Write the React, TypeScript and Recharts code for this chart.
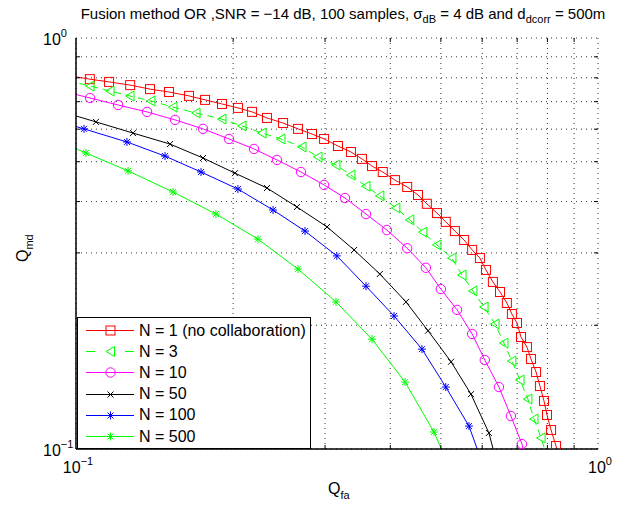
import React from 'react';
import { LineChart, Line, XAxis, YAxis, CartesianGrid, Legend } from 'recharts';

const FONT = 'Liberation Sans, Arial, Helvetica, sans-serif';
const CHART_W = 643;
const CHART_H = 506;
const MARGIN = { top: 38, right: 45, bottom: 27, left: 16 };
const Y_AXIS_W = 60;
const X_AXIS_H = 30;
const PLOT_W = CHART_W - MARGIN.left - Y_AXIS_W - MARGIN.right;
const PLOT_H = CHART_H - MARGIN.top - MARGIN.bottom - X_AXIS_H;

// tick values (log axes, minor grid at 2..9 x decade)
const xTicks = [0.1, 0.2, 0.3, 0.4, 0.5, 0.6, 0.7, 0.8, 0.9, 1];
const yTicks = [0.1, 0.2, 0.3, 0.4, 0.5, 0.6, 0.7, 0.8, 0.9, 1];

// N = 1 (no collaboration)
const qfaN1 = [0.0916, 0.1063, 0.1157, 0.127, 0.1386, 0.1507, 0.1646, 0.1767, 0.1904, 0.2043, 0.2174, 0.2322, 0.2493, 0.2663, 0.2832, 0.2987, 0.3176, 0.3363, 0.353, 0.369, 0.387, 0.4085, 0.431, 0.452, 0.47, 0.4915, 0.511, 0.532, 0.554, 0.574, 0.594, 0.61, 0.629, 0.649, 0.669, 0.684, 0.6995, 0.712, 0.731, 0.744, 0.761, 0.774, 0.788, 0.7985, 0.813, 0.831, 0.846];
const qmdN1 = [0.819, 0.794, 0.782, 0.768, 0.751, 0.739, 0.723, 0.707, 0.691, 0.676, 0.661, 0.639, 0.621, 0.601, 0.584, 0.568, 0.546, 0.528, 0.508, 0.488, 0.472, 0.451, 0.434, 0.415, 0.395, 0.375, 0.357, 0.339, 0.3225, 0.305, 0.2915, 0.2727, 0.255, 0.241, 0.2266, 0.213, 0.2026, 0.1873, 0.177, 0.1656, 0.1539, 0.1423, 0.1309, 0.121, 0.1112, 0.1017, 0.093];

// N = 3
const qfaN3 = [0.0916, 0.1064, 0.1162, 0.1269, 0.1392, 0.1534, 0.1698, 0.1904, 0.208, 0.2272, 0.247, 0.271, 0.2908, 0.3148, 0.3363, 0.3594, 0.382, 0.41, 0.436, 0.462, 0.4915, 0.525, 0.549, 0.576, 0.605, 0.635, 0.6605, 0.684, 0.709, 0.734, 0.754, 0.778, 0.802];
const qmdN3 = [0.801, 0.764, 0.743, 0.7225, 0.7026, 0.679, 0.657, 0.635, 0.611, 0.587, 0.568, 0.543, 0.5135, 0.491, 0.464, 0.436, 0.413, 0.386, 0.361, 0.337, 0.3136, 0.2915, 0.265, 0.2424, 0.2216, 0.2015, 0.181, 0.1637, 0.1472, 0.1323, 0.1183, 0.1064, 0.094];

// N = 10
const qfaN10 = [0.0916, 0.1064, 0.1204, 0.1368, 0.1548, 0.1751, 0.1964, 0.2193, 0.2427, 0.2698, 0.2987, 0.3276, 0.3594, 0.394, 0.431, 0.468, 0.5, 0.537, 0.574, 0.607, 0.646, 0.681, 0.715, 0.734];
const qmdN10 = [0.749, 0.7145, 0.687, 0.661, 0.632, 0.601, 0.568, 0.537, 0.505, 0.472, 0.439, 0.408, 0.373, 0.341, 0.308, 0.276, 0.245, 0.218, 0.1905, 0.1646, 0.1415, 0.1203, 0.1028, 0.0899];

// N = 50
const qfaN50 = [0.0916, 0.1092, 0.1286, 0.1514, 0.1751, 0.2016, 0.2322, 0.265, 0.3027, 0.341, 0.382, 0.4287, 0.4725, 0.523, 0.571, 0.618, 0.649];
const qmdN50 = [0.668, 0.625, 0.587, 0.552, 0.5105, 0.469, 0.4315, 0.388, 0.347, 0.305, 0.2666, 0.228, 0.194, 0.163, 0.136, 0.1094, 0.0865];

// N = 100
const qfaN100 = [0.0916, 0.1036, 0.1252, 0.1481, 0.1736, 0.2043, 0.2385, 0.2746, 0.316, 0.3594, 0.4067, 0.46, 0.511, 0.566, 0.607];
const qmdN100 = [0.6295, 0.601, 0.5585, 0.516, 0.472, 0.429, 0.3815, 0.339, 0.295, 0.249, 0.2107, 0.175, 0.1415, 0.1137, 0.0889];

// N = 500
const qfaN500 = [0.0916, 0.1045, 0.1258, 0.1534, 0.1854, 0.2232, 0.2663, 0.3148, 0.369, 0.427, 0.485, 0.532];
const qmdN500 = [0.565, 0.525, 0.475, 0.422, 0.373, 0.324, 0.274, 0.228, 0.185, 0.1455, 0.11, 0.0841];

const zip = (xs: number[], ys: number[]) => xs.map((x, i) => ({ x, y: ys[i] }));

type Kind = 'square' | 'triangle' | 'circle' | 'x' | 'star';

const series: { name: string; color: string; kind: Kind; dashed: boolean; data: { x: number; y: number }[] }[] = [
  { name: 'N = 1 (no collaboration)', color: '#ff0000', kind: 'square', dashed: false, data: zip(qfaN1, qmdN1) },
  { name: 'N = 3', color: '#00ff00', kind: 'triangle', dashed: true, data: zip(qfaN3, qmdN3) },
  { name: 'N = 10', color: '#ff00ff', kind: 'circle', dashed: false, data: zip(qfaN10, qmdN10) },
  { name: 'N = 50', color: '#000000', kind: 'x', dashed: false, data: zip(qfaN50, qmdN50) },
  { name: 'N = 100', color: '#0000ff', kind: 'star', dashed: false, data: zip(qfaN100, qmdN100) },
  { name: 'N = 500', color: '#00ff00', kind: 'star', dashed: false, data: zip(qfaN500, qmdN500) },
];

const marker = (kind: Kind, color: string, cx: number, cy: number, key?: any) => {
  const common = { fill: 'none', stroke: color, strokeWidth: 1 };
  switch (kind) {
    case 'square':
      return <rect key={key} x={cx - 4.5} y={cy - 4.5} width={9} height={9} {...common} />;
    case 'triangle':
      return <polygon key={key} points={`${cx - 4.5},${cy} ${cx + 4},${cy - 5} ${cx + 4},${cy + 5}`} {...common} />;
    case 'circle':
      return <circle key={key} cx={cx} cy={cy} r={4.7} {...common} />;
    case 'x':
      return (
        <g key={key} {...common}>
          <line x1={cx - 3} y1={cy - 3} x2={cx + 3} y2={cy + 3} />
          <line x1={cx - 3} y1={cy + 3} x2={cx + 3} y2={cy - 3} />
        </g>
      );
    case 'star':
    default:
      return (
        <g key={key} {...common}>
          <line x1={cx - 4} y1={cy} x2={cx + 4} y2={cy} />
          <line x1={cx} y1={cy - 4} x2={cx} y2={cy + 4} />
          <line x1={cx - 3} y1={cy - 3} x2={cx + 3} y2={cy + 3} />
          <line x1={cx - 3} y1={cy + 3} x2={cx + 3} y2={cy - 3} />
        </g>
      );
  }
};

const makeDot = (kind: Kind, color: string) => (p: any) => {
  const { cx, cy, index } = p;
  if (cx == null || cy == null || isNaN(cx) || isNaN(cy)) return <g key={`e${index}`} />;
  return marker(kind, color, cx, cy, `d${index}`);
};

const Pow10 = ({ x, y, exp, anchor }: { x: number; y: number; exp: string; anchor: 'start' | 'middle' | 'end' }) => (
  <text x={x} y={y} textAnchor={anchor} fontFamily={FONT} fontSize={16} fill="#000">
    10
    <tspan dy={-8} fontSize={11}>
      {exp}
    </tspan>
  </text>
);

const XTick = (props: any) => {
  const { x, y, payload } = props;
  const v = payload.value;
  const major = v === 0.1 || v === 1;
  return (
    <g>
      {!major && <line x1={x} x2={x} y1={y} y2={y - 4} stroke="#000" />}
      {!major && <line x1={x} x2={x} y1={y - PLOT_H} y2={y - PLOT_H + 4} stroke="#000" />}
      {major && <Pow10 x={x + 2} y={y + 24} exp={v === 1 ? '0' : '−1'} anchor="middle" />}
    </g>
  );
};

const YTick = (props: any) => {
  const { x, y, payload } = props;
  const v = payload.value;
  const major = v === 0.1 || v === 1;
  return (
    <g>
      {!major && <line x1={x} x2={x + 4} y1={y} y2={y} stroke="#000" />}
      {!major && <line x1={x + PLOT_W} x2={x + PLOT_W - 4} y1={y} y2={y} stroke="#000" />}
      {major && <Pow10 x={x - 33} y={y + 7} exp={v === 1 ? '0' : '−1'} anchor="start" />}
    </g>
  );
};

const renderLegend = () => (
  <div
    style={{
      width: 234,
      height: 132,
      border: '1px solid #000',
      background: '#fff',
      boxSizing: 'border-box',
      position: 'relative',
      fontFamily: FONT,
      fontSize: 16,
      color: '#000',
    }}
  >
    {series.map((s, i) => (
      <div
        key={s.name}
        style={{ position: 'absolute', left: 0, top: 2 + i * 21.2, height: 21, display: 'flex', alignItems: 'center', whiteSpace: 'nowrap' }}
      >
        <svg width={61} height={21} style={{ display: 'block' }}>
          {s.dashed ? (
            <g stroke={s.color} strokeWidth={1}>
              <line x1={8} x2={17} y1={10.5} y2={10.5} />
              <line x1={47} x2={56} y1={10.5} y2={10.5} />
            </g>
          ) : (
            <line x1={8} x2={56} y1={10.5} y2={10.5} stroke={s.color} strokeWidth={1} />
          )}
          {marker(s.kind, s.color, 32.5, 10.5)}
        </svg>
        <span>{s.name}</span>
      </div>
    ))}
  </div>
);

export default function App() {
  return (
    <div style={{ position: 'absolute', left: 0, top: 0, width: CHART_W, height: CHART_H, background: '#fff' }}>
      <LineChart width={CHART_W} height={CHART_H} margin={MARGIN}>
        <CartesianGrid stroke="#333" strokeDasharray="1 4" />
        <XAxis
          type="number"
          dataKey="x"
          scale="log"
          domain={[0.1, 1]}
          allowDataOverflow
          ticks={xTicks}
          interval={0}
          height={X_AXIS_H}
          tickSize={0}
          tickMargin={0}
          tickLine={false}
          axisLine={{ stroke: '#000', strokeWidth: 1.5 }}
          tick={XTick}
        />
        <XAxis
          xAxisId="top"
          orientation="top"
          type="number"
          scale="log"
          domain={[0.1, 1]}
          allowDataOverflow
          height={0}
          tick={false}
          tickLine={false}
          axisLine={{ stroke: '#000', strokeWidth: 1.5 }}
        />
        <YAxis
          type="number"
          dataKey="y"
          scale="log"
          domain={[0.1, 1]}
          allowDataOverflow
          ticks={yTicks}
          interval={0}
          width={Y_AXIS_W}
          tickSize={0}
          tickMargin={0}
          tickLine={false}
          axisLine={{ stroke: '#000', strokeWidth: 1.5 }}
          tick={YTick}
        />
        <YAxis
          yAxisId="right"
          orientation="right"
          type="number"
          scale="log"
          domain={[0.1, 1]}
          allowDataOverflow
          width={0}
          tick={false}
          tickLine={false}
          axisLine={{ stroke: '#000', strokeWidth: 1.5 }}
        />
        <Legend
          layout="vertical"
          align="center"
          verticalAlign="middle"
          content={renderLegend}
          wrapperStyle={{ position: 'absolute', left: 77, top: 317, width: 234, height: 132 }}
        />
        {series.map((s) => (
          <Line
            key={s.name}
            name={s.name}
            data={s.data}
            dataKey="y"
            type="linear"
            stroke={s.color}
            strokeWidth={1}
            strokeDasharray={s.dashed ? '7 5' : undefined}
            dot={makeDot(s.kind, s.color)}
            activeDot={false}
            isAnimationActive={false}
          />
        ))}
      </LineChart>
      <svg
        width={CHART_W}
        height={CHART_H}
        style={{ position: 'absolute', left: 0, top: 0, pointerEvents: 'none' }}
      >
        <text x={343} y={19} textAnchor="middle" fontFamily={FONT} fontSize={15} fill="#000">
          Fusion method OR ,SNR = −14 dB, 100 samples, σ
          <tspan dy={4} fontSize={11}>dB</tspan>
          <tspan dy={-4}> = 4 dB and d</tspan>
          <tspan dy={4} fontSize={11}>dcorr</tspan>
          <tspan dy={-4}> = 500m</tspan>
        </text>
        <text x={328} y={494} fontFamily={FONT} fontSize={16} fill="#000">
          Q<tspan dy={5} fontSize={11}>fa</tspan>
        </text>
        <text x={0} y={0} transform="translate(28,262) rotate(-90)" fontFamily={FONT} fontSize={16} fill="#000">
          Q<tspan dy={5} fontSize={11}>md</tspan>
        </text>
      </svg>
    </div>
  );
}
